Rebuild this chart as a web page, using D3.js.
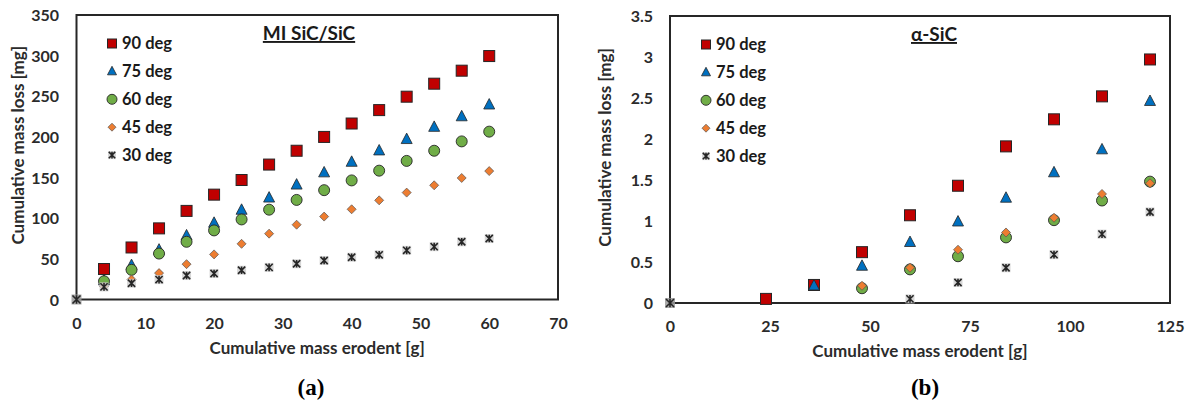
<!DOCTYPE html>
<html><head><meta charset="utf-8">
<script src="https://cdn.jsdelivr.net/npm/d3@7"></script>
<style>
html,body{margin:0;padding:0;background:#fff;}
svg{display:block;font-family:Lato,"Open Sans",sans-serif;}
</style></head>
<body>
<svg id="chart" width="1191" height="409"></svg>
<script>
// ---------- data: panel (a) MI SiC/SiC ----------
const seriesNames = ["90 deg","75 deg","60 deg","45 deg","30 deg"];
const xA = [4,8,12,16,20,24,28,32,36,40,44,48,52,56,60];
const a90 = [37.5,64,87.5,109,129,147,166,183,200,216.5,233,249.5,265.5,281.5,299.5];
const a75 = [23,42,61,78.5,94,110,125,141,156,169,183,197,212,225,239.5];
const a60 = [22.5,36.5,56.5,71,85,98.5,110.5,122.5,134.5,146.5,158.5,170.5,183,194.5,206.5];
const a45 = [16,24.5,32.5,43.5,55.5,68.5,81,92,102,111,122,131.5,140.5,149.5,158];
const a30 = [15.5,20,24.5,29.5,32,36,39.5,44,48,52,55,60.5,65,71,75];
const xTicksA = [0,10,20,30,40,50,60,70];
const yTicksA = [0,50,100,150,200,250,300,350];

// ---------- data: panel (b) alpha-SiC ----------
const xB90 = [24,36,48,60,72,84,96,108,120];
const b90 = [0.05,0.22,0.62,1.07,1.43,1.91,2.24,2.52,2.97];
const xB75 = [36,48,60,72,84,96,108,120];
const b75 = [0.21,0.45,0.74,0.99,1.28,1.59,1.87,2.46];
const xB60 = [48,60,72,84,96,108,120];
const b60 = [0.18,0.41,0.57,0.80,1.01,1.25,1.48];
const xB45 = [48,60,72,84,96,108,120];
const b45 = [0.21,0.43,0.65,0.86,1.04,1.33,1.46];
const xB30 = [60,72,84,96,108,120];
const b30 = [0.05,0.25,0.43,0.59,0.84,1.11];
const xTicksB = [0,25,50,75,100,125];
const yTicksB = [0,0.5,1,1.5,2,2.5,3,3.5];

const colors = {"90 deg":"#C00000","75 deg":"#0070C0","60 deg":"#70AD47","45 deg":"#ED7D31","30 deg":"#7f7f7f"};
const shapes = {"90 deg":"square","75 deg":"triangle","60 deg":"circle","45 deg":"diamond","30 deg":"star"};

const svg = d3.select("#chart");

function drawMarker(g, shape, x, y, s){
  const stroke = "#262626";
  if(shape==="square"){
    g.append("rect").attr("x",x-s/2).attr("y",y-s/2).attr("width",s).attr("height",s)
      .attr("fill",colors["90 deg"]).attr("stroke",stroke).attr("stroke-width",1);
  } else if(shape==="triangle"){
    const h=s*0.95;
    g.append("path").attr("d",`M${x},${y-h*0.6}L${x+s/2},${y+h*0.4}L${x-s/2},${y+h*0.4}Z`)
      .attr("fill",colors["75 deg"]).attr("stroke",stroke).attr("stroke-width",0.8);
  } else if(shape==="circle"){
    g.append("circle").attr("cx",x).attr("cy",y).attr("r",s/2)
      .attr("fill",colors["60 deg"]).attr("stroke",stroke).attr("stroke-width",0.9);
  } else if(shape==="diamond"){
    const r=s/2;
    g.append("path").attr("d",`M${x},${y-r}L${x+r},${y}L${x},${y+r}L${x-r},${y}Z`)
      .attr("fill",colors["45 deg"]).attr("stroke","#555").attr("stroke-width",0.7);
  } else if(shape==="star"){
    const r=s/2;
    g.append("rect").attr("x",x-r).attr("y",y-r).attr("width",s).attr("height",s)
      .attr("fill","#d0d0d0").attr("opacity",0.85);
    g.append("path").attr("d",`M${x-r*0.8},${y-r*0.8}L${x+r*0.8},${y+r*0.8}M${x+r*0.8},${y-r*0.8}L${x-r*0.8},${y+r*0.8}M${x},${y-r*0.85}L${x},${y+r*0.85}`)
      .attr("stroke","#262626").attr("stroke-width",1.6);
  }
}

const markerSize = {"square":11,"triangle":11,"circle":11,"diamond":9,"star":9};
const legendSize = {"square":9,"triangle":9,"circle":10,"diamond":8,"star":8};

function panel(cfg){
  const x = d3.scaleLinear().domain(cfg.xDomain).range([cfg.left,cfg.right]);
  const y = d3.scaleLinear().domain(cfg.yDomain).range([cfg.bottom,cfg.top]);
  const g = svg.append("g");

  const xAxis = d3.axisBottom(x).tickValues(cfg.xTicks).tickSize(0).tickPadding(0).tickFormat(d3.format("d"));
  const gx = g.append("g").attr("transform",`translate(0,${cfg.bottom})`).call(xAxis);
  gx.select(".domain").remove();
  gx.selectAll("text").attr("dy",null).attr("y",29).style("font-size","16px").style("font-weight","bold")
    .style("fill","#2b2b2b").style("font-family","Lato,sans-serif");

  const yAxis = d3.axisLeft(y).tickValues(cfg.yTicks).tickSize(0).tickPadding(0).tickFormat(cfg.yFormat);
  const gy = g.append("g").attr("transform",`translate(${cfg.left},0)`).call(yAxis);
  gy.select(".domain").remove();
  gy.selectAll("text").attr("x",-(cfg.left-cfg.yLabelRight)).attr("dy","0.35em").style("font-size","16px")
    .style("font-weight","bold").style("fill","#2b2b2b").style("font-family","Lato,sans-serif");

  g.append("rect").attr("x",cfg.left).attr("y",cfg.top).attr("width",cfg.right-cfg.left).attr("height",cfg.bottom-cfg.top)
    .attr("fill","none").attr("stroke","#262626").attr("stroke-width",2);

  cfg.series.forEach(s=>{
    const sg = g.append("g");
    s.x.forEach((xv,i)=>drawMarker(sg, shapes[s.name], x(xv), y(s.y[i]), markerSize[shapes[s.name]]));
  });
  // origin point (all series start at 0,0; 30 deg drawn on top)
  const og = g.append("g");
  drawMarker(og,"star",x(0),y(0),10);
  og.select("rect").attr("fill","#9a9a9a");

  seriesNames.forEach((n,i)=>{
    const ly = cfg.top + cfg.legendTop + i*27.9;
    drawMarker(g, shapes[n], cfg.left+cfg.legendX, ly, legendSize[shapes[n]]);
    g.append("text").attr("x",cfg.left+cfg.legendX+10).attr("y",ly).attr("dy","0.36em")
      .style("font-size","16.5px").style("font-weight","bold").style("fill","#1a1a1a").text(n);
  });

  g.append("text").attr("x",cfg.titleX).attr("y",cfg.top+25).attr("text-anchor","middle")
    .style("font-size","19px").style("font-weight","bold").style("fill","#1a1a1a")
    .style("text-decoration","underline").text(cfg.title);

  g.append("text").attr("x",(cfg.left+cfg.right)/2).attr("y",cfg.bottom+54).attr("text-anchor","middle")
    .style("font-size","17px").style("font-weight","bold").style("fill","#2b2b2b").text("Cumulative mass erodent [g]");
  g.append("text").attr("transform",`translate(${cfg.yTitleX},${(cfg.top+cfg.bottom)/2-12}) rotate(-90)`)
    .attr("text-anchor","middle").attr("dy","0.35em")
    .style("font-size","17px").style("font-weight","bold").style("fill","#2b2b2b").text("Cumulative mass loss [mg]");

  g.append("text").attr("x",cfg.letterX).attr("y",395).attr("text-anchor","middle")
    .style("font-family","'Liberation Serif','Times New Roman',serif").style("font-size","23px")
    .style("font-weight","bold").style("fill","#000").text(cfg.letter);
}

panel({
  left:76.5,right:558,top:15,bottom:299.5,
  xDomain:[0,70],yDomain:[0,350],xTicks:xTicksA,yTicks:yTicksA,yFormat:d3.format("d"),
  yLabelRight:59,yTitleX:18,legendX:35.5,legendTop:28.5,titleX:309,title:"MI SiC/SiC",
  letter:"(a)",letterX:311,
  series:[{name:"90 deg",x:xA,y:a90},{name:"75 deg",x:xA,y:a75},{name:"60 deg",x:xA,y:a60},
          {name:"45 deg",x:xA,y:a45},{name:"30 deg",x:xA,y:a30}]
});
panel({
  left:670,right:1170,top:16,bottom:303,
  xDomain:[0,125],yDomain:[0,3.5],xTicks:xTicksB,yTicks:yTicksB,yFormat:d3.format("~g"),
  yLabelRight:653,yTitleX:605,legendX:36,legendTop:28.5,titleX:934,title:"α-SiC",
  letter:"(b)",letterX:925,
  series:[{name:"90 deg",x:xB90,y:b90},{name:"75 deg",x:xB75,y:b75},{name:"60 deg",x:xB60,y:b60},
          {name:"45 deg",x:xB45,y:b45},{name:"30 deg",x:xB30,y:b30}]
});
</script>
</body></html>
